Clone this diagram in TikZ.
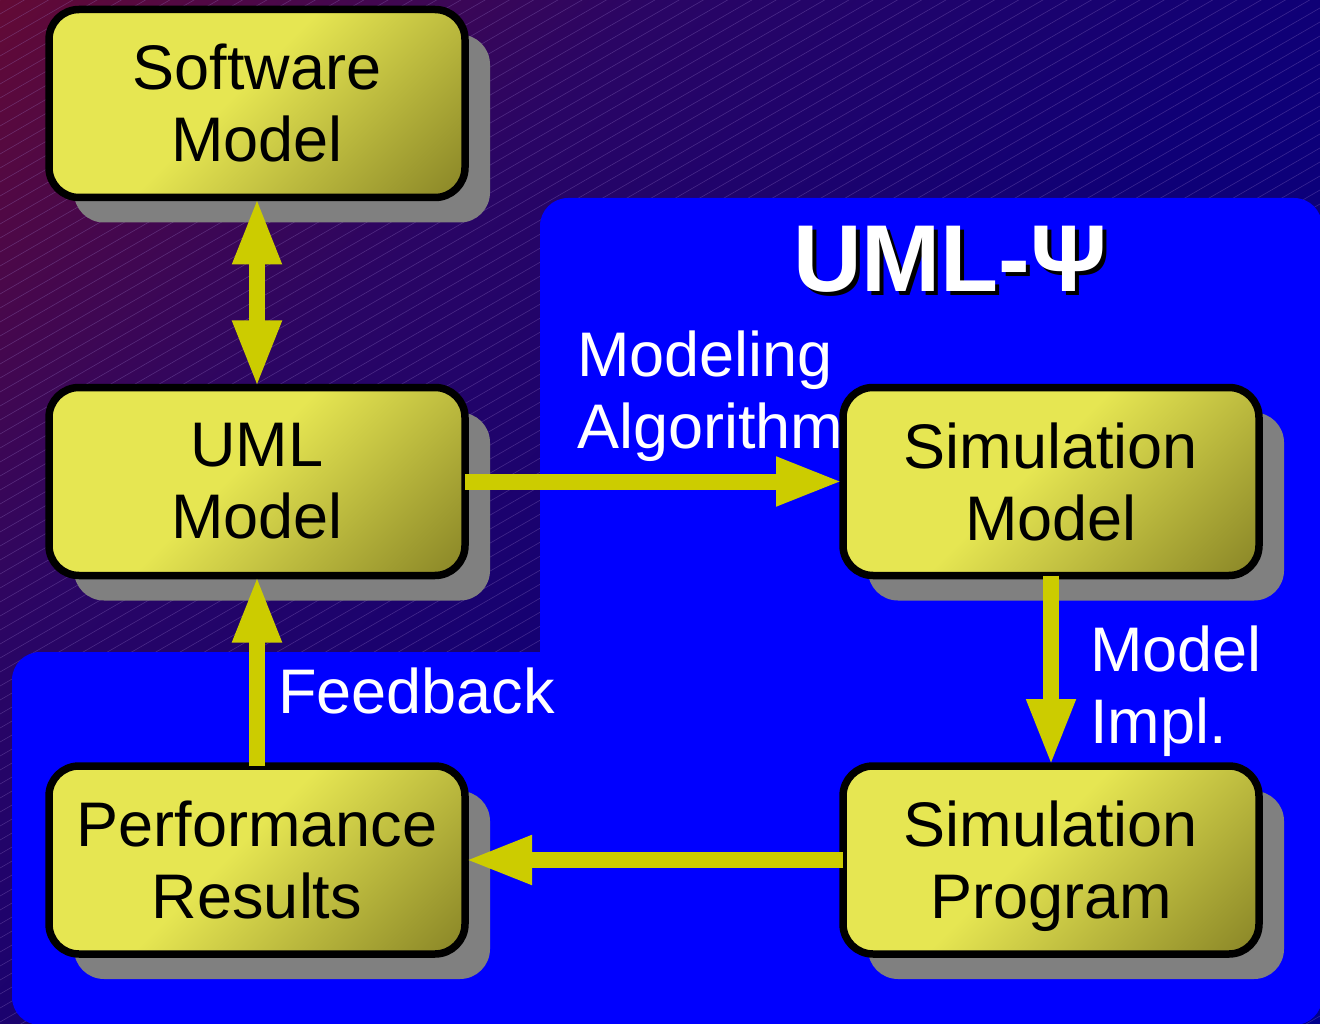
\documentclass[tikz,border=0pt]{standalone}
\usepackage{fontspec}
\setmainfont{Liberation Sans}
\usetikzlibrary{arrows.meta,shadows}

\definecolor{boxyellow}{RGB}{230,230,82}
\definecolor{boxolive}{RGB}{136,132,38}
\definecolor{arrowyellow}{RGB}{204,204,0}
\definecolor{shadowgray}{RGB}{128,128,128}
\definecolor{panelblue}{RGB}{0,0,255}
\definecolor{bgred}{RGB}{100,10,52}
\definecolor{bgplum}{RGB}{42,5,100}
\definecolor{bgindigo}{RGB}{15,0,118}
\definecolor{bgnavy}{RGB}{0,0,140}
\definecolor{hatch}{RGB}{160,130,210}

% diagonal fill of the boxes: flat yellow, then darkening towards the lower right
\pgfdeclareverticalshading{boxfill}{100bp}{color(0bp)=(boxolive); color(25.6bp)=(boxolive); color(52.6bp)=(boxyellow); color(100bp)=(boxyellow)}
% backdrop: dark red in the upper left fading to navy
\pgfdeclareverticalshading{bgfill}{100bp}{color(0bp)=(bgnavy); color(18bp)=(bgnavy); color(46bp)=(bgindigo); color(64bp)=(bgplum); color(82bp)=(bgred); color(100bp)=(bgred)}

\tikzset{
  box/.style={draw=black, line width=7.5pt, rounded corners=30pt,
    minimum width=416pt, minimum height=188pt, inner sep=0pt, outer sep=0pt,
    align=center, font=\fontsize{63}{72}\selectfont,
    drop shadow={shadow xshift=25pt, shadow yshift=-25pt, fill=shadowgray, opacity=1},
    path picture={\shade[shading=boxfill, shading angle=45]
      ([shift={(-220,-220)}]path picture bounding box.center) rectangle
      ([shift={(220,220)}]path picture bounding box.center);}},
  tipshape/.tip={Triangle[length=67pt,width=45pt]},
  flow/.style={draw=arrowyellow, line width=16pt, -tipshape},
  twoway/.style={draw=arrowyellow, line width=16pt, tipshape-tipshape},
  whitetext/.style={text=white, inner sep=0pt, outer sep=0pt, align=left,
    font=\fontsize{63}{72}\selectfont},
  titletext/.style={inner sep=0pt, outer sep=0pt, anchor=base west,
    font=\fontsize{95}{100}\selectfont\bfseries},
  hatchline/.style={draw=hatch, line width=0.6pt, opacity=0.3}
}

\begin{document}
\begin{tikzpicture}[x=1pt,y=-1pt]
\useasboundingbox (0,0) rectangle (1320,1024);
\path[clip] (0,0) rectangle (1320,1024);

% backdrop with fine diagonal hatching
\shade[shading=bgfill, shading angle=45] (0,-148) rectangle (1320,1172);
\foreach \c in {0,14,...,1800} {
  \draw[hatchline] (0,\c) -- (1320,\c-762);
}

% blue L-shaped panel
\fill[panelblue, rounded corners=28pt] (540,198) rectangle (1322,1025);
\fill[panelblue, rounded corners=28pt] (12,652) rectangle (1322,1025);

% title with its hard shadow
\node[titletext, text=black] (titleshadow) at (797,296) {UML-Ψ};
\node[titletext, text=white] (title) at (793,292) {UML-Ψ};

% boxes
\node[box] (sw)   at (257,103.5) {Software\\Model};
\node[box] (uml)  at (257,481.5) {UML\\Model};
\node[box] (perf) at (257,860)   {Performance\\Results};
\node[box] (simm) at (1051,481.5) {Simulation\\Model};
\node[box] (simp) at (1051,860)   {Simulation\\\smash{Program}};

% connectors
\draw[twoway] (sw.south) -- (uml.north);
\draw[flow] (uml.east) -- (simm.west);
\draw[flow] (simm.south) -- (simp.north);
\draw[flow] (simp.west) -- (perf.east);
\draw[flow] (perf.north) -- (uml.south);

% connector labels
\node[whitetext, anchor=north west] (modalg) at (577,331) {Modeling\\Algorithm};
\node[whitetext, anchor=base west] (feedback) at (278,713) {Feedback};
\node[whitetext, anchor=north west] (implnote) at (1090,626) {Model\\Impl.};
\end{tikzpicture}
\end{document}
